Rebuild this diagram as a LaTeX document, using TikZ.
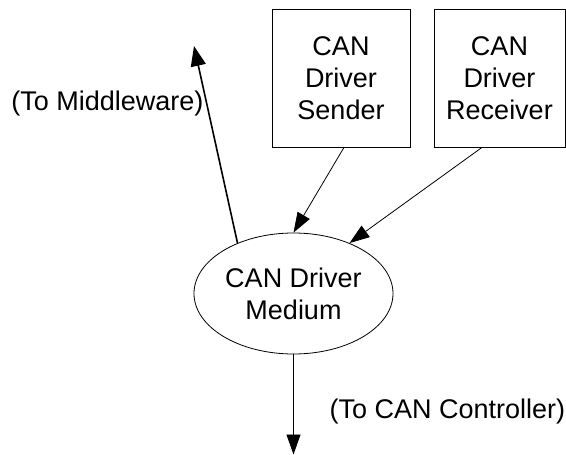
\documentclass[tikz,border=0pt]{standalone}
\usepackage{fontspec}
\setmainfont{Liberation Sans}
\usetikzlibrary{arrows.meta,shapes.geometric}
\begin{document}
\begin{tikzpicture}[x=1pt,y=-1pt,
  font=\fontsize{27}{32}\selectfont,
  compbox/.style={draw, line width=0.8pt, inner sep=0pt, align=center,
    minimum height=138pt},
  medium/.style={draw, ellipse, line width=0.8pt, inner sep=0pt, align=center,
    minimum width=199pt, minimum height=121pt},
  flow/.style={line width=0.8pt, -{Triangle[length=20pt,width=14pt]}},
  boldflow/.style={line width=1.6pt, -{Triangle[length=20pt,width=15pt]}},
  note/.style={inner sep=0pt}]
\useasboundingbox (0,0) rectangle (566,455);

% components
\node[compbox, minimum width=138pt] (sender) at (341,78) {CAN\\Driver\\Sender};
\node[compbox, minimum width=131pt] (receiver) at (499.5,78) {CAN\\Driver\\Receiver};
\node[medium] (med) at (293.5,293.5) {CAN Driver\\Medium};

% external ends
\coordinate (mw) at (194,46);
\coordinate (ctl) at (293.5,454.5);

% connectors
\draw[flow] ([xshift=3pt]sender.south) -- (med.north);
\draw[flow] ([xshift=-17.5pt]receiver.south) -- (med.42);
\draw[boldflow] (med.138) -- (mw);
\draw[flow] (med.south) -- (ctl);

% labels
\node[note] (lmw) at (107.5,104) {(To Middleware)};
\node[note] (lctl) at (447.5,412) {(To CAN Controller)};
\end{tikzpicture}
\end{document}
